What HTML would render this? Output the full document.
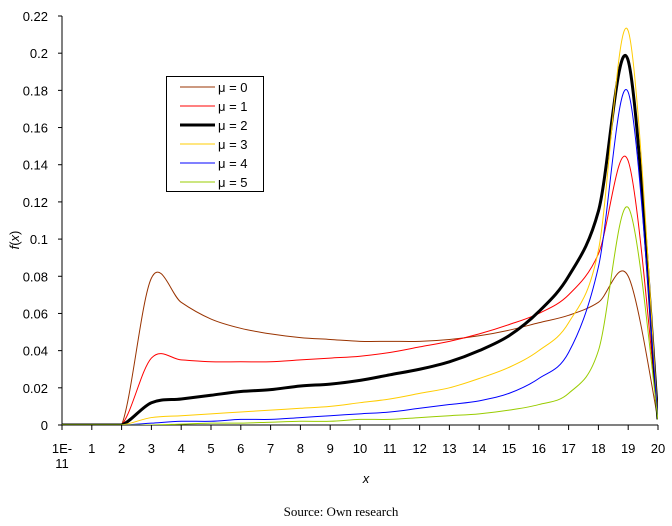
<!DOCTYPE html>
<html><head><meta charset="utf-8"><style>
body{margin:0;background:#fff;width:672px;height:521px;overflow:hidden}
svg text{font-family:"Liberation Sans",Arial,sans-serif;font-size:13px}
</style></head><body>
<svg id="c" width="672" height="521"></svg>
<script>
const categories=["1E-11","1","2","3","4","5","6","7","8","9","10","11","12","13","14","15","16","17","18","19","20"];
const yTicks=[0,0.02,0.04,0.06,0.08,0.1,0.12,0.14,0.16,0.18,0.2,0.22];
const seriesNames=["μ = 0","μ = 1","μ = 2","μ = 3","μ = 4","μ = 5"];
const mu0=[0,0,0,0.079,0.066,0.057,0.052,0.049,0.047,0.046,0.045,0.045,0.045,0.046,0.048,0.051,0.055,0.059,0.066,0.080,0.003];
const mu1=[0,0,0,0.036,0.035,0.034,0.034,0.034,0.035,0.036,0.037,0.039,0.042,0.045,0.049,0.054,0.060,0.070,0.092,0.142,0.003];
const mu2=[0,0,0,0.012,0.014,0.016,0.018,0.019,0.021,0.022,0.024,0.027,0.030,0.034,0.040,0.048,0.061,0.080,0.115,0.196,0.003];
const mu3=[0,0,0,0.004,0.005,0.006,0.007,0.008,0.009,0.010,0.012,0.014,0.017,0.020,0.025,0.031,0.040,0.055,0.094,0.212,0.003];
const mu4=[0,0,0,0.001,0.002,0.002,0.003,0.003,0.004,0.005,0.006,0.007,0.009,0.011,0.013,0.017,0.025,0.039,0.085,0.179,0.003];
const mu5=[0,0,0,0,0.0005,0.001,0.001,0.0015,0.002,0.002,0.003,0.003,0.004,0.005,0.006,0.008,0.011,0.017,0.040,0.117,0.003];
const series=[mu0,mu1,mu2,mu3,mu4,mu5];
const colors=["#993300","#ff0000","#000000","#ffcc00","#0000ff","#99cc00"];
const widths=[1,1,3,1,1,1];
const NS="http://www.w3.org/2000/svg",svg=document.getElementById('c');
const X0=62,X1=658,Y0=425,Y1=16;
const xs=i=>X0+(X1-X0)*i/(categories.length-1);
const ys=v=>Y0-(Y0-Y1)*v/0.22;
function mk(t,a,p){const e=document.createElementNS(NS,t);for(const k in a)e.setAttribute(k,a[k]);(p||svg).appendChild(e);return e;}
const defs=mk('defs',{});const cp=mk('clipPath',{id:'cl'},defs);mk('rect',{x:X0,y:0,width:X1-X0,height:Y0},cp);
const ya=mk('line',{x1:X0,y1:Y1,x2:X0,y2:Y0,stroke:'#000'});

const xa=mk('line',{x1:X0,y1:Y0,x2:X1,y2:Y0,stroke:'#000'});

yTicks.forEach(v=>{const y=ys(v);mk('line',{x1:X0-4,y1:y,x2:X0,y2:y,stroke:'#000'});
 const t=mk('text',{x:48,y:y+5,'text-anchor':'end'});t.textContent=String(v);
 });
categories.forEach((c,i)=>{const x=xs(i);mk('line',{x1:x,y1:Y0,x2:x,y2:Y0+5,stroke:'#000'});
 const t=mk('text',{x:x,y:453,'text-anchor':'middle'});
 
 if(c==="1E-11"){const a=mk('tspan',{x:x,y:453},t);a.textContent="1E-";const b=mk('tspan',{x:x,y:468},t);b.textContent="11";}
 else t.textContent=c;});
series.forEach((d,s)=>{const p=d.map((v,i)=>[xs(i),ys(v)]);let path=`M${p[0][0]},${p[0][1]}`;
 for(let i=0;i<p.length-1;i++){const p0=p[Math.max(0,i-1)],p1=p[i],p2=p[i+1],p3=p[Math.min(p.length-1,i+2)];
  const c1=[p1[0]+(p2[0]-p0[0])/6,p1[1]+(p2[1]-p0[1])/6],c2=[p2[0]-(p3[0]-p1[0])/6,p2[1]-(p3[1]-p1[1])/6];
  path+=` C${c1[0]},${Math.min(c1[1],Y0)} ${c2[0]},${Math.min(c2[1],Y0)} ${p2[0]},${p2[1]}`;}
 const e=mk('path',{d:path,fill:'none',stroke:colors[s],'stroke-width':widths[s],'clip-path':'url(#cl)'});
 });
const lg=mk('g',{});
mk('rect',{x:166.5,y:76.5,width:97,height:115,fill:'#fff',stroke:'#000'},lg);
seriesNames.forEach((n,s)=>{const y=87+s*19;
 const l=mk('line',{x1:180,y1:y,x2:215,y2:y,stroke:colors[s],'stroke-width':widths[s]},lg);
 
 const t=mk('text',{x:218,y:y+5},lg);t.textContent=n;});
const yt=mk('text',{x:0,y:0,transform:'translate(19,240) rotate(-90)','text-anchor':'middle'});
yt.innerHTML='<tspan font-style="italic">f</tspan>(<tspan font-style="italic">x</tspan>)';

const xt=mk('text',{x:366,y:483,'text-anchor':'middle','font-style':'italic'});xt.textContent='x';

const src=mk('text',{x:341,y:516,'text-anchor':'middle',style:'font-family:"Liberation Serif",serif;font-size:13px'});src.textContent='Source: Own research';

</script></body></html>
